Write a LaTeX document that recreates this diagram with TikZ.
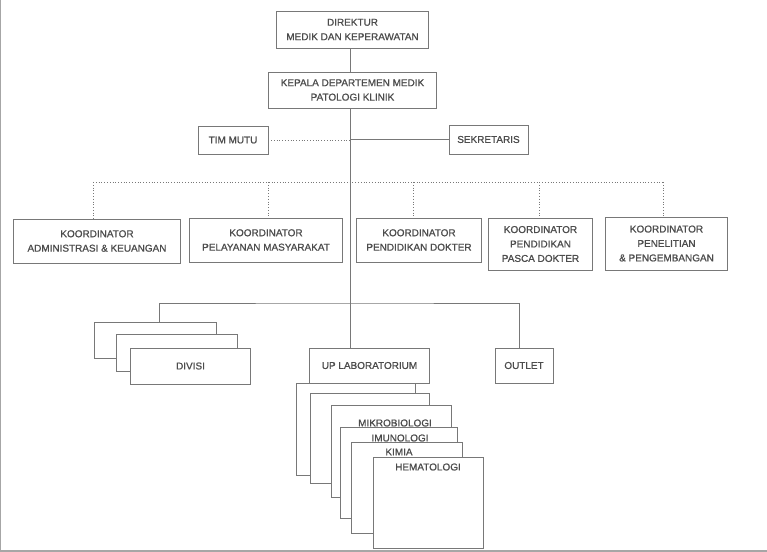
\documentclass[tikz,border=0pt]{standalone}
\usepackage{fontspec}
\setmainfont{Liberation Sans}
\newfontfamily\scanfont[FakeBold=0.9]{Liberation Sans}
\usetikzlibrary{positioning,calc}
\definecolor{ink}{gray}{0.3}
\definecolor{rule}{gray}{0.47}

\begin{document}
\begin{tikzpicture}[x=1bp,y=-1bp,
  box/.style={draw=rule,line width=0.7pt,fill=white,inner sep=1pt,align=center,text=ink,font=\scanfont\fontsize{10}{14.5}\selectfont},
  pagebox/.style={draw=rule,line width=0.7pt,fill=white},
  lbl/.style={inner sep=0pt,text=ink,font=\scanfont\fontsize{10}{12}\selectfont},
  link/.style={draw=rule,line width=0.7pt},
  dotlink/.style={draw=rule,line width=0.8pt,dash pattern=on 0.8pt off 2pt}]
  \useasboundingbox (0,0) rectangle (767,552);
  % scan frame
  \draw[black!35,line width=1.2bp] (0.6,0) -- (0.6,552);
  \draw[black!35,line width=2bp] (0,551) -- (767,551);

  % head
  \coordinate (spine) at (350,0);
  \node[box,minimum width=153,minimum height=37] (direktur) at (352.5,29.5) {DIREKTUR\\MEDIK DAN KEPERAWATAN};
  \node[box,minimum width=169,minimum height=36] (kepala) at (352.5,90) {KEPALA DEPARTEMEN MEDIK\\PATOLOGI KLINIK};
  \node[box,minimum width=70,minimum height=28] (timmutu) at (233,140) {TIM MUTU};
  \node[box,minimum width=79,minimum height=29] (sekretaris) at (488.5,139.5) {SEKRETARIS};

  % koordinator
  \node[box,minimum width=168,minimum height=44] (kadm) at (97,241) {KOORDINATOR\\ADMINISTRASI \& KEUANGAN};
  \node[box,minimum width=154,minimum height=44] (kpel) at (266,240) {KOORDINATOR\\PELAYANAN MASYARAKAT};
  \node[box,minimum width=126,minimum height=44] (kdok) at (419,240) {KOORDINATOR\\PENDIDIKAN DOKTER};
  \node[box,minimum width=105,minimum height=52] (kpasca) at (540.5,244) {KOORDINATOR\\PENDIDIKAN\\PASCA DOKTER};
  \node[box,minimum width=123,minimum height=53] (kpen) at (666.5,243.5) {KOORDINATOR\\PENELITIAN\\\& PENGEMBANGAN};

  % unit
  \foreach \xa/\ya/\xb/\yb in {94/322/216/358, 116/334/237/371}
    \draw[pagebox] (\xa,\ya) rectangle (\xb,\yb);
  \node[box,minimum width=121,minimum height=36] (divisi) at (190.5,366) {DIVISI};
  \node[box,minimum width=121,minimum height=35] (uplab) at (369.5,365.5) {UP LABORATORIUM};
  \node[box,minimum width=58,minimum height=35] (outlet) at (524,365.5) {OUTLET};

  % laboratorium
  \foreach \xa/\ya/\xb/\yb in {296/383/415/475, 310/393/429/483, 331/405/451/497,
                               340/427/457/518, 351/442/462/533, 373/457/483/548}
    \draw[pagebox] (\xa,\ya) rectangle (\xb,\yb);
  \node[lbl] (mikro) at (395,423) {MIKROBIOLOGI};
  \node[lbl] (imuno) at (400,438) {IMUNOLOGI};
  \node[lbl] (kimia) at (399,452) {KIMIA};
  \node[lbl] (hemato) at (428,467) {HEMATOLOGI};

  % lines
  \draw[link] (direktur.south -| spine) -- (kepala.north -| spine);
  \draw[link] (kepala.south -| spine) -- (uplab.north -| spine);
  \draw[dotlink] (timmutu.east) -- (timmutu.east -| spine);
  \draw[link] (sekretaris.west -| spine) -- (sekretaris.west);
  \coordinate (busA) at (0,182);
  \draw[dotlink] ([xshift=-4]kadm.north |- busA) -- ([xshift=-3]kpen.north |- busA);
  \foreach \k/\dx in {kadm/-4,kpel/2,kdok/-6,kpasca/-1,kpen/-3}
    \draw[dotlink] ([xshift=\dx]\k.north |- busA) -- ([xshift=\dx]\k.north);
  \coordinate (busB) at (350,303);
  \coordinate (divtop) at (159,322);
  \draw[link] (divtop) |- (busB) -| ([xshift=-5]outlet.north);
\end{tikzpicture}
\end{document}
